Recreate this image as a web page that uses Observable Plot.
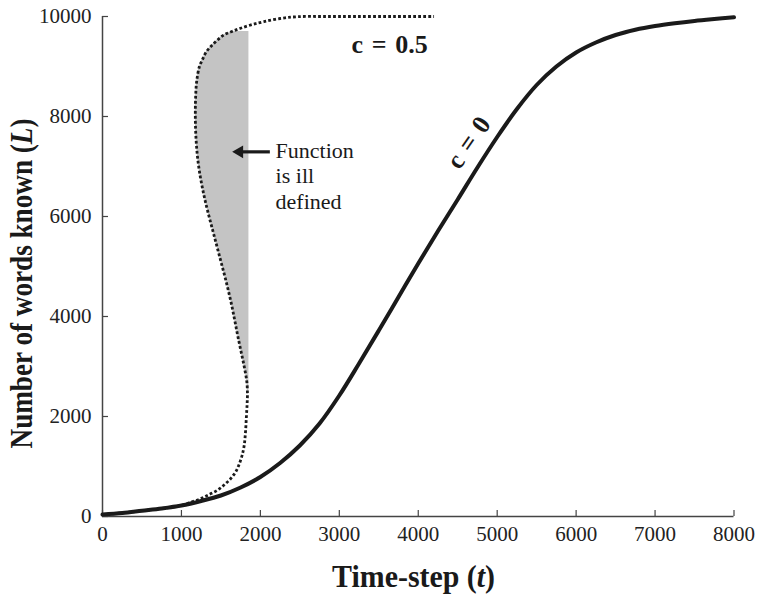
<!DOCTYPE html>
<html>
<head>
<meta charset="utf-8">
<script src="https://cdn.jsdelivr.net/npm/d3@7"></script>
<script src="https://cdn.jsdelivr.net/npm/@observablehq/plot@0.6"></script>
<style>
html,body{margin:0;padding:0;background:#fff;}
#chart{width:762px;height:595px;}
</style>
</head>
<body>
<div id="chart"></div>
<script>
// ---- data ----
// c = 0 curve
const timeC0 = [0,250,500,750,1000,1250,1500,1750,2000,2250,2500,2750,3000,3250,3500,3750,4000,4250,4500,4750,5000,5250,5500,5750,6000,6250,6500,6750,7000,7250,7500,7750,8000];
const wordsC0 = [40,70,115,160,220,310,420,580,790,1070,1420,1860,2420,3060,3720,4390,5060,5710,6340,6980,7590,8150,8630,9000,9280,9480,9630,9735,9810,9866,9912,9950,9985];
// c = 0.5 curve (folds back on itself)
const timeC05 = [0,250,500,750,1000,1120,1242,1350,1454,1540,1622,1690,1735,1770,1795,1812,1823,1832,1836,1828,1795,1755,1715,1678,1640,1597,1550,1500,1450,1400,1350,1303,1262,1228,1203,1187,1178,1176,1180,1193,1228,1264,1310,1369,1450,1537,1640,1749,1900,2044,2250,2468,2800,3200,3700,4200];
const wordsC05 = [40,70,115,160,225,285,355,440,525,630,755,900,1060,1230,1420,1700,2000,2250,2450,2700,3000,3300,3600,3900,4200,4500,4800,5100,5400,5700,6000,6300,6600,6900,7200,7500,7800,8100,8400,8700,9000,9130,9280,9395,9520,9630,9700,9764,9840,9896,9960,9996,10000,10000,10000,10000];
// ill-defined region
const illDefinedEdgeT = 1855;
const illDefinedL = [2450, 9700];
// ticks
const xTicks = [0,1000,2000,3000,4000,5000,6000,7000,8000];
const yTicks = [0,2000,4000,6000,8000,10000];
// annotations
const labelTexts = ["c\u2004=\u20040.5", "c\u2004=\u20040", "Function\nis ill\ndefined"];
const labelT = [3638, 4639, 2193];
const labelL = [9435, 7477, 6827];
const arrowT = [2120, 1644];
const arrowL = 7293;
const xTitle = "Time-step (t)";
const yTitle = "Number of words known (L)";

// ---- build tables ----
const c0 = timeC0.map((t, i) => ({t, L: wordsC0[i]}));
const c05 = timeC05.map((t, i) => ({t, L: wordsC05[i]}));
const shade = c05.filter(d => d.L >= illDefinedL[0] && d.L <= illDefinedL[1]);
const labels = labelTexts.map((text, i) => ({text, t: labelT[i], L: labelL[i]}));

const W = 762, H = 595, mL = 102, mR = 28.5, mT = 16, mB = 79;
const frameW = W - mL - mR, frameH = H - mT - mB;
const ink = "#1a1a1a";

const chart = Plot.plot({
  width: W, height: H,
  marginLeft: mL, marginRight: mR, marginTop: mT, marginBottom: mB,
  style: {fontFamily: "'Liberation Serif', 'Times New Roman', serif", fontSize: "21px", color: "#222", background: "#fff"},
  x: {domain: [0, 8000]},
  y: {domain: [0, 10000]},
  marks: [
    Plot.areaX(shade, {y: "L", x1: "t", x2: () => illDefinedEdgeT, fill: "#c4c4c4", curve: "catmull-rom"}),
    Plot.ruleY([0], {stroke: "#444", strokeWidth: 1.5}),
    Plot.ruleX([0], {stroke: "#444", strokeWidth: 1.5}),
    Plot.tickX(xTicks, {x: d => d, insetTop: frameH - 6, stroke: "#444", strokeWidth: 1.2}),
    Plot.tickY(yTicks, {y: d => d, insetRight: frameW - 6, stroke: "#444", strokeWidth: 1.2}),
    Plot.axisX({ticks: xTicks, tickSize: 0, tickPadding: 10, tickFormat: d => String(d), label: null, fontSize: 21}),
    Plot.axisY({ticks: yTicks, tickSize: 0, tickPadding: 11, tickFormat: d => String(d), label: null, fontSize: 21}),
    Plot.line(c05, {x: "t", y: "L", stroke: ink, strokeWidth: 2.8, strokeDasharray: "2.8,2.2", strokeLinecap: "butt", curve: "catmull-rom"}),
    Plot.line(c0, {x: "t", y: "L", stroke: ink, strokeWidth: 4, curve: "catmull-rom"}),
    Plot.link([{}], {x1: () => arrowT[0], x2: () => arrowT[1] + 120, y1: () => arrowL, y2: () => arrowL, stroke: ink, strokeWidth: 3.2}),
    Plot.dot([{}], {x: () => arrowT[1], y: () => arrowL, symbol: "triangle", r: 4.7, rotate: -90, dx: 7.2, fill: ink, stroke: "none"}),
    Plot.text(labels.slice(0, 1), {x: "t", y: "L", text: "text", fontWeight: "bold", fontSize: 26, fill: ink}),
    Plot.text(labels.slice(1, 2), {x: "t", y: "L", text: "text", fontWeight: "bold", fontSize: 26, fill: ink, rotate: -55}),
    Plot.text(labels.slice(2, 3), {x: "t", y: "L", text: "text", fontSize: 22, fill: ink, textAnchor: "start", lineHeight: 1.18}),
    Plot.text([xTitle], {frameAnchor: "bottom", textAnchor: "middle", lineAnchor: "middle", dx: -4.7, dy: 60.5, text: d => d, fontWeight: "bold", fontSize: 32, fill: ink}),
    Plot.text([yTitle], {frameAnchor: "left", textAnchor: "middle", lineAnchor: "middle", dx: -80.5, dy: 17, rotate: -90, text: d => d, fontWeight: "bold", fontSize: 32, fill: ink})
  ]
});

document.getElementById("chart").appendChild(chart);

// italic variable letters and narrower title widths
d3.select(chart).selectAll("text").each(function() {
  const txt = this.textContent;
  const target = txt === xTitle ? 163 : txt === yTitle ? 330 : null;
  if (target == null) return;
  const m = txt.match(/^(.*\()(\w)(\))$/);
  const el = d3.select(this);
  el.text(null);
  el.append("tspan").text(m[1]);
  el.append("tspan").attr("font-style", "italic").text(m[2]);
  el.append("tspan").text(m[3]);
  const len = this.getComputedTextLength();
  const s = len > 0 ? target / len : 1;
  const x = +this.getAttribute("x") || 0, y = +this.getAttribute("y") || 0;
  const tr = this.getAttribute("transform") || "";
  this.setAttribute("transform", `${tr} translate(${x},${y}) scale(${s},1) translate(${-x},${-y})`);
});
</script>
</body>
</html>
